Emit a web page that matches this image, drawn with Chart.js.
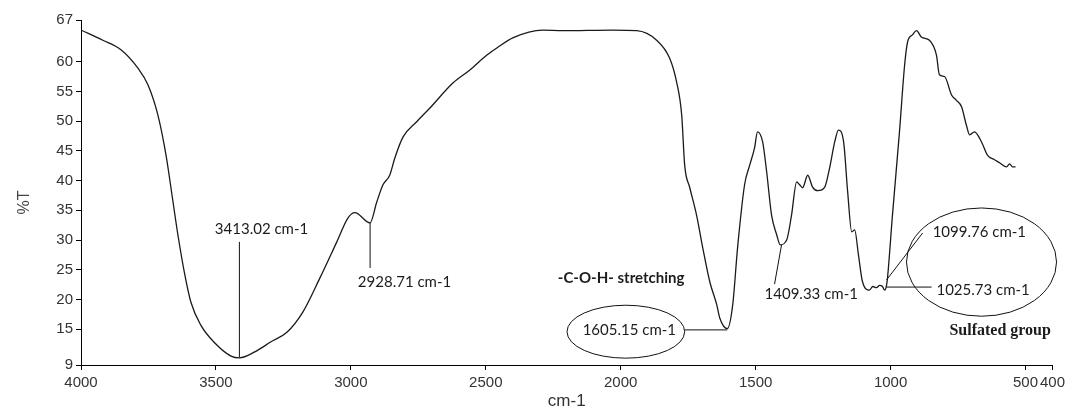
<!DOCTYPE html>
<html>
<head>
<meta charset="utf-8">
<title>FTIR spectrum</title>
<script src="https://cdn.jsdelivr.net/npm/chart.js@4.4.0/dist/chart.umd.min.js"></script>
<style>
  html, body { margin: 0; padding: 0; background: #fff; }
  #wrap { width: 1069px; height: 410px; }
</style>
</head>
<body>
<div id="wrap"><canvas id="irChart" width="1069" height="410"></canvas></div>
<script>
// Spectrum (wavenumber in cm-1, transmittance in %T)
const wavenumbers = [
  4000, 3919, 3852, 3789, 3752, 3715, 3685, 3659, 3641, 3615, 3593, 3556, 3504, 3444, 3413,
  3356, 3296, 3237, 3178, 3115, 3052, 3011, 2985, 2929, 2904, 2881, 2856, 2837, 2807, 2756,
  2707, 2622, 2559, 2496, 2459, 2400, 2289, 2215, 2030, 1941, 1867, 1819, 1793, 1774, 1763,
  1744, 1719, 1696, 1670, 1644, 1633, 1605, 1585, 1567, 1541, 1522, 1504, 1493, 1474, 1459,
  1441, 1422, 1409, 1385, 1367, 1348, 1337, 1326, 1307, 1289, 1270, 1244, 1226, 1207, 1193,
  1174, 1159, 1144, 1133, 1119, 1104, 1078, 1066, 1052, 1041, 1030, 1022, 1015, 1011, 993,
  967, 948, 937, 919, 904, 885, 856, 830, 819, 800, 774, 756, 737, 719, 707,
  689, 663, 641, 615, 596, 570, 559, 548, 537
];
const transmittance = [
  65.3, 63.6, 62.0, 58.9, 56.1, 51.0, 44.3, 36.4, 30.9, 24.1, 19.6, 15.7, 12.7, 10.5, 10.2,
  11.2, 12.9, 14.5, 17.9, 23.6, 29.7, 33.7, 34.6, 32.9, 36.4, 39.3, 40.9, 43.8, 47.3, 49.9,
  52.2, 56.4, 58.6, 61.1, 62.3, 64.0, 65.3, 65.2, 65.3, 65.2, 63.6, 60.6, 56.6, 51.0, 42.6,
  38.8, 34.2, 28.7, 23.0, 19.1, 16.9, 15.1, 19.1, 28.7, 39.3, 42.6, 45.5, 48.2, 46.5, 41.4,
  34.2, 30.9, 29.2, 30.0, 34.2, 39.8, 39.3, 38.8, 40.9, 38.9, 38.3, 38.9, 42.1, 46.5, 48.5,
  46.5, 38.1, 31.4, 31.7, 27.5, 23.0, 21.6, 22.2, 22.0, 22.4, 22.2, 21.6, 22.4, 23.8, 34.2,
  48.2, 59.4, 63.3, 64.5, 65.2, 64.1, 63.6, 61.1, 57.8, 57.5, 54.4, 53.5, 52.4, 49.3, 47.7,
  48.2, 46.5, 44.3, 43.5, 43.0, 42.3, 42.8, 42.3, 42.3
];

// Axis ticks as printed on the original plot
const xTickValues = [4000, 3500, 3000, 2500, 2000, 1500, 1000, 500, 400];
const yTickValues = [9, 15, 20, 25, 30, 35, 40, 45, 50, 55, 60, 67];

// Annotation texts
const peakLabels = ['3413.02 cm-1', '2928.71 cm-1', '1605.15 cm-1', '1409.33 cm-1', '1099.76 cm-1', '1025.73 cm-1'];
const groupLabels = ['-C-O-H- stretching', 'Sulfated group'];
const xAxisTitle = 'cm-1';
const yAxisTitle = '%T';

const TICK_FONT = { family: '"Liberation Sans", Arial, sans-serif', size: 15 };
const NOTE_FONT = '15px Lato, "Open Sans", sans-serif';

/**
 * Draws the leader lines, ellipses and texts of the peak annotations.
 * Everything is placed in data units and converted through the chart scales.
 */
const peakNotesPlugin = {
  id: 'peakNotes',
  afterDraw(chart) {
    const { ctx, chartArea, scales: { x, y } } = chart;
    const px = v => x.getPixelForValue(v);
    const py = v => y.getPixelForValue(v);

    ctx.save();
    ctx.strokeStyle = '#111';
    ctx.lineWidth = 1;

    const line = (x1, y1, x2, y2) => {
      ctx.beginPath();
      ctx.moveTo(px(x1), py(y1));
      ctx.lineTo(px(x2), py(y2));
      ctx.stroke();
    };
    const ellipse = (cx, cy, rw, rt) => {
      const rx = Math.abs(px(cx - rw) - px(cx));
      const ry = Math.abs(py(cy + rt) - py(cy));
      ctx.beginPath();
      ctx.ellipse(px(cx), py(cy), rx, ry, 0, 0, Math.PI * 2);
      ctx.stroke();
    };
    const text = (str, wx, t, font, align) => {
      ctx.font = font;
      ctx.textAlign = align || 'left';
      ctx.textBaseline = 'middle';
      ctx.fillText(str, px(wx), py(t));
    };

    // leader lines from labels to peaks
    line(3413.02, 29.7, 3413.02, 10.3);
    line(2928.71, 32.9, 2928.71, 25.3);
    line(1763, 14.9, 1605.15, 14.9);
    line(1430, 22.6, 1404, 29.2);
    line(881, 31.2, 1015, 23.3);
    line(1015, 22.1, 848, 22.1);

    // ellipses round the highlighted labels
    ellipse(1981, 14.6, 218, 4.45);
    ellipse(663, 26.3, 278, 9.1);

    // label texts
    ctx.fillStyle = '#1c1c1c';
    text(peakLabels[0], 3504, 31.9, NOTE_FONT);
    text(peakLabels[1], 2974, 23.0, NOTE_FONT);
    text(peakLabels[2], 1968, 14.8, NOTE_FONT, 'center');
    text(peakLabels[3], 1467, 20.9, NOTE_FONT);
    text(peakLabels[4], 844, 31.4, NOTE_FONT);
    text(peakLabels[5], 830, 21.6, NOTE_FONT);
    text(groupLabels[0], 2233, 23.6, 'bold 15px Lato, "Open Sans", sans-serif');
    text(groupLabels[1], 782, 14.7, 'bold 16px "Liberation Serif", "DejaVu Serif", serif');

    // rotated y axis title
    ctx.fillStyle = '#444';
    ctx.font = '16px "Liberation Sans", Arial, sans-serif';
    ctx.textAlign = 'center';
    ctx.textBaseline = 'middle';
    ctx.translate(chartArea.left - 56, (chartArea.top + chartArea.bottom) / 2 + 10);
    ctx.rotate(-Math.PI / 2);
    ctx.fillText(yAxisTitle, 0, 0);

    ctx.restore();
  }
};

function renderSpectrum() {
  const ctx = document.getElementById('irChart').getContext('2d');

  const points = wavenumbers.map((w, i) => ({ x: w, y: transmittance[i] }));

  const config = {
    type: 'line',
    data: {
      datasets: [{
        label: '%T',
        data: points,
        borderColor: '#1a1a1a',
        borderWidth: 1.3,
        pointRadius: 0,
        fill: false,
        cubicInterpolationMode: 'monotone'
      }]
    },
    options: {
      responsive: false,
      animation: false,
      devicePixelRatio: 1,
      layout: { padding: { left: 0, top: 20, right: 16, bottom: 0 } },
      plugins: {
        legend: { display: false },
        tooltip: { enabled: false }
      },
      scales: {
        x: {
          type: 'linear',
          reverse: true,
          min: 400,
          max: 4000,
          afterBuildTicks: scale => { scale.ticks = xTickValues.map(v => ({ value: v })); },
          afterFit: scale => { scale.height = 45; },
          ticks: {
            autoSkip: false,
            maxRotation: 0,
            padding: 4,
            color: '#333',
            font: TICK_FONT,
            callback: v => String(v)
          },
          grid: { drawOnChartArea: false, tickLength: 5, color: '#000' },
          border: { color: '#000', width: 1 },
          title: {
            display: true,
            text: xAxisTitle,
            color: '#333',
            padding: 0,
            font: { family: TICK_FONT.family, size: 17, lineHeight: 1 }
          }
        },
        y: {
          type: 'linear',
          min: 9,
          max: 67,
          afterBuildTicks: scale => { scale.ticks = yTickValues.map(v => ({ value: v })); },
          afterFit: scale => { scale.width = 81; },
          ticks: {
            padding: 3,
            color: '#333',
            font: TICK_FONT,
            callback: v => String(v)
          },
          grid: { drawOnChartArea: false, tickLength: 5, color: '#000' },
          border: { color: '#000', width: 1 }
        }
      }
    },
    plugins: [peakNotesPlugin]
  };

  new Chart(ctx, config);
}

renderSpectrum();
</script>
</body>
</html>
